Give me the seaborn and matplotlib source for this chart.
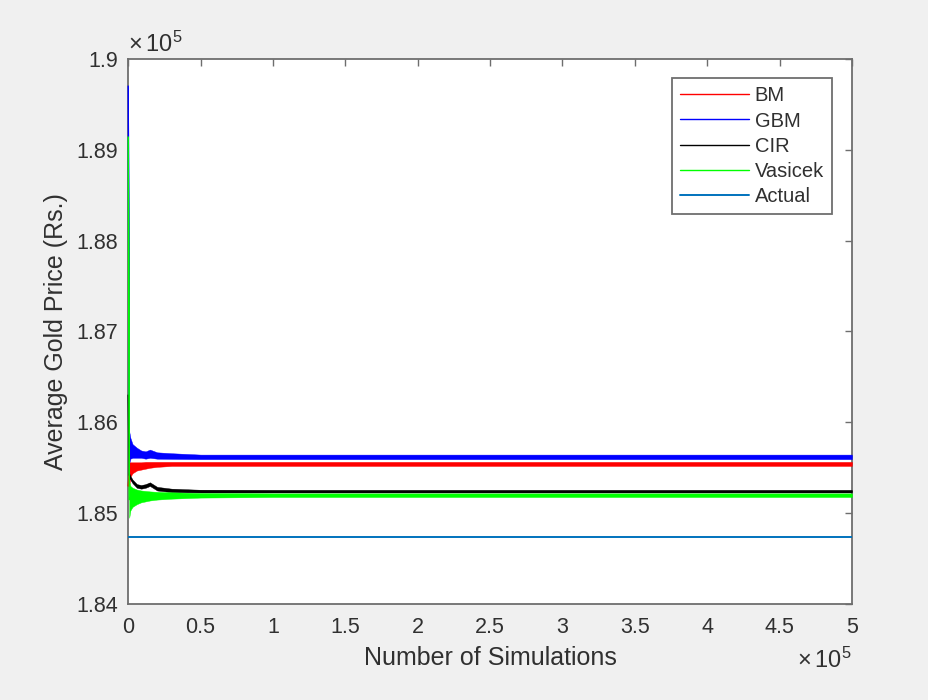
import matplotlib
matplotlib.use("Agg")
import matplotlib.pyplot as plt
from matplotlib.ticker import FixedLocator, FuncFormatter
import numpy as np
import pandas as pd
import seaborn as sns

# Monte Carlo running averages of the gold price (Rs.) versus number of simulations.
# Each model is given by a centre line and the spread of its running average.
sims = [1, 700, 1500, 3000, 6000, 9000, 12000, 15000, 20000, 30000, 50000,
        100000, 200000, 300000, 400000, 500000]

bm_high = [185300, 185560, 185560, 185560, 185560, 185560, 185565, 185565, 185565,
           185565, 185565, 185565, 185565, 185565, 185565, 185565]
bm_low = [185300, 185300, 185400, 185440, 185470, 185480, 185490, 185500, 185510,
          185520, 185520, 185520, 185520, 185520, 185520, 185520]

gbm_high = [189700, 185900, 185830, 185760, 185720, 185690, 185680, 185700, 185670,
            185660, 185645, 185645, 185645, 185645, 185645, 185645]
gbm_low = [189700, 185550, 185600, 185610, 185610, 185610, 185600, 185610, 185600,
           185598, 185595, 185595, 185595, 185595, 185595, 185595]

cir_high = [186300, 185440, 185410, 185370, 185320, 185310, 185320, 185340, 185290,
            185270, 185258, 185255, 185255, 185255, 185255, 185255]
cir_low = [186300, 185400, 185370, 185330, 185280, 185270, 185280, 185300, 185250,
           185232, 185228, 185228, 185228, 185228, 185228, 185228]

vas_high = [189140, 185350, 185300, 185280, 185260, 185250, 185245, 185240, 185235,
            185230, 185222, 185218, 185218, 185218, 185218, 185218]
vas_low = [189140, 184950, 185030, 185070, 185100, 185120, 185130, 185140, 185150,
           185160, 185172, 185178, 185178, 185178, 185178, 185178]

actual_price = 184740

series_names = ["BM", "GBM", "CIR", "Vasicek"]
series_colors = ["#ff0000", "#0000ff", "#000000", "#00ff00"]
actual_color = "#0072bd"

x_ticks = [0, 50000, 100000, 150000, 200000, 250000, 300000, 350000, 400000, 450000, 500000]
y_ticks = [184000, 185000, 186000, 187000, 188000, 189000, 190000]

sns.set_theme(style="white")
plt.rcParams["font.family"] = ["Liberation Sans", "DejaVu Sans"]
plt.rcParams["mathtext.fontset"] = "custom"
plt.rcParams["mathtext.rm"] = "Liberation Sans"

text_color = "#303030"
axis_color = "#6e6e6e"

fig = plt.figure(figsize=(9.29, 7.0), dpi=100, facecolor="#f0f0f0")
ax = fig.add_axes([0.138, 0.137, 0.779, 0.779])
ax.set_facecolor("white")

bands = [(bm_low, bm_high), (gbm_low, gbm_high), (cir_low, cir_high), (vas_low, vas_high)]
for name, color, (lo, hi) in zip(series_names, series_colors, bands):
    lo_a = np.array(lo, dtype=float)
    hi_a = np.array(hi, dtype=float)
    df = pd.DataFrame({"sims": sims, "price": (lo_a + hi_a) / 2})
    sns.lineplot(data=df, x="sims", y="price", ax=ax, color=color, linewidth=1.0,
                 label=name, estimator=None, sort=False, zorder=3, clip_on=False)
    ax.fill_between(sims, lo_a, hi_a, color=color, linewidth=0.3, zorder=3, clip_on=False)

df_actual = pd.DataFrame({"sims": [sims[0], sims[-1]], "price": [actual_price, actual_price]})
sns.lineplot(data=df_actual, x="sims", y="price", ax=ax, color=actual_color, linewidth=1.4,
             label="Actual", estimator=None, zorder=3)

ax.set_xlim(0, 500000)
ax.set_ylim(184000, 190000)
ax.xaxis.set_major_locator(FixedLocator(x_ticks))
ax.yaxis.set_major_locator(FixedLocator(y_ticks))
ax.xaxis.set_major_formatter(FuncFormatter(lambda v, p: f"{v / 1e5:g}"))
ax.yaxis.set_major_formatter(FuncFormatter(lambda v, p: f"{v / 1e5:g}"))

ax.tick_params(direction="in", length=5, width=1.0, color=axis_color,
               top=True, right=True, labelsize=15.5, labelcolor=text_color)
ax.tick_params(axis="x", pad=9)
ax.tick_params(axis="y", pad=7)
for s in ax.spines.values():
    s.set_visible(True)
    s.set_color(axis_color)
    s.set_linewidth(1.3)

ax.set_xlabel("Number of Simulations", fontsize=18, color=text_color, labelpad=6)
ax.set_ylabel("Average Gold Price (Rs.)", fontsize=18, color=text_color, labelpad=6)

ax.text(0.0, 1.003, r"$\times\,\mathregular{10^{5}}$", transform=ax.transAxes,
        fontsize=17, color=text_color, ha="left", va="bottom")
ax.text(1.0, -0.08, r"$\times\,\mathregular{10^{5}}$", transform=ax.transAxes,
        fontsize=17, color=text_color, ha="right", va="top")

leg = ax.legend(loc="upper right", bbox_to_anchor=(0.9725, 0.964), fontsize=14.5,
                frameon=True, fancybox=False, handlelength=3.4, handletextpad=0.3,
                labelspacing=0.3, borderpad=0.4, borderaxespad=0.0)
frame = leg.get_frame()
frame.set_edgecolor(axis_color)
frame.set_linewidth(1.3)
frame.set_facecolor("white")
frame.set_alpha(1.0)
for t in leg.get_texts():
    t.set_color(text_color)

fig.savefig("out.png", dpi=100, facecolor=fig.get_facecolor())
